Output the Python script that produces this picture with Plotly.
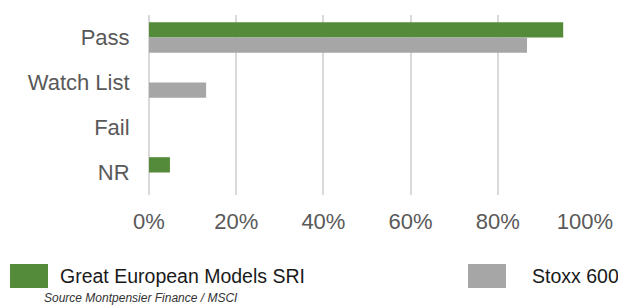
import plotly.graph_objects as go

categories = ["Pass", "Watch List", "Fail", "NR"]
gem_sri = [95.0, 0.0, 0.0, 4.8]
stoxx600 = [86.7, 13.1, 0.0, 0.0]
series_names = ["Great European Models SRI", "Stoxx 600"]
x_ticks = [0, 20, 40, 60, 80, 100]
x_tick_labels = ["0%", "20%", "40%", "60%", "80%", "100%"]
source_text = "Source Montpensier Finance / MSCI"

GREEN = "#548B3A"
GRAY = "#A6A6A6"
W, H = 618, 305
ML, MR, MT, MB = 149, 33, 15, 110

fig = go.Figure()
fig.add_trace(go.Bar(y=categories, x=gem_sri, orientation="h", name=series_names[0],
                     marker=dict(color=GREEN, line=dict(width=0))))
fig.add_trace(go.Bar(y=categories, x=stoxx600, orientation="h", name=series_names[1],
                     marker=dict(color=GRAY, line=dict(width=0))))

fig.update_layout(
    width=W, height=H,
    margin=dict(l=ML, r=MR, t=MT, b=MB),
    paper_bgcolor="white", plot_bgcolor="white",
    barmode="group", bargap=0.32, bargroupgap=0,
    showlegend=False,
    font=dict(family="Liberation Sans, Arial, sans-serif", size=22, color="#595959"),
)
fig.update_xaxes(range=[0, 100], tickvals=x_ticks, ticktext=x_tick_labels,
                 showgrid=True, gridcolor="#D9D9D9", gridwidth=1.5,
                 zeroline=True, zerolinecolor="#D9D9D9", zerolinewidth=1.5,
                 showline=False, ticks="outside", ticklen=7, tickcolor="rgba(0,0,0,0)",
                 tickfont=dict(size=22, color="#595959"), fixedrange=True,
                 automargin=False)
fig.update_yaxes(autorange="reversed", showgrid=False, zeroline=False, showline=False,
                 ticks="outside", ticklen=14, tickcolor="rgba(0,0,0,0)",
                 tickfont=dict(size=22, color="#595959"), fixedrange=True,
                 automargin=False)

PW = W - ML - MR
PH = H - MT - MB

legend_items = [(series_names[0], GREEN, 10, 58), (series_names[1], GRAY, 468, 530)]
for name, col, sx, tx in legend_items:
    fig.add_shape(type="rect", xref="paper", yref="paper",
                  x0=(sx - ML) / PW, x1=(sx + 38 - ML) / PW,
                  y0=(H - MB - 288) / PH, y1=(H - MB - 264) / PH,
                  fillcolor=col, line=dict(width=0))
    fig.add_annotation(xref="paper", yref="paper", x=(tx - ML) / PW,
                       y=(H - MB - 276) / PH, text=name, showarrow=False,
                       xanchor="left", yanchor="middle",
                       font=dict(size=19.5, color="#1A1A1A"))
fig.add_annotation(xref="paper", yref="paper", x=(42 - ML) / PW,
                   y=(H - MB - 298) / PH, text="<i>" + source_text + "</i>",
                   showarrow=False, xanchor="left", yanchor="middle",
                   font=dict(size=12, color="#333333"))

fig.write_html("out.html", config={"displayModeBar": False},
               post_script="document.body.style.margin='0';document.body.style.overflow='hidden';")
